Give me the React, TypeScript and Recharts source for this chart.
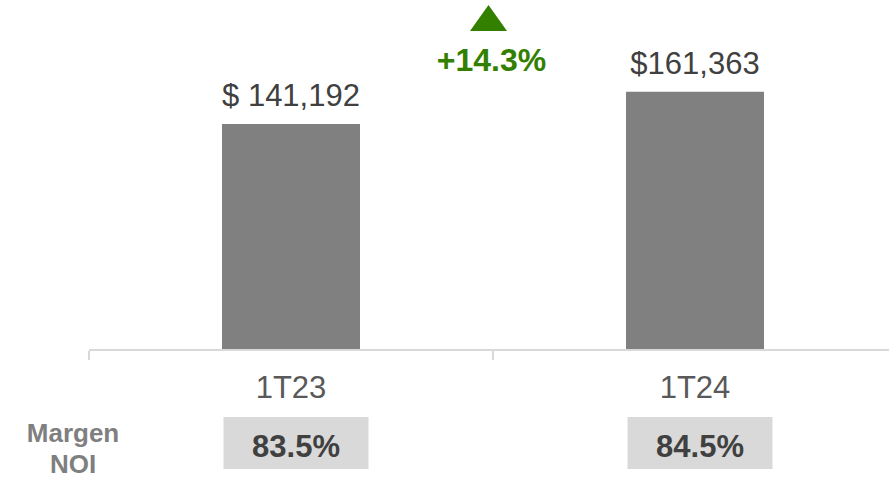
import React from 'react';
import { BarChart, Bar, XAxis, YAxis, LabelList } from 'recharts';

const categories = ['1T23', '1T24'];
const noiValues = [141192, 161363];
const valueLabels = ['$ 141,192', '$161,363'];
const marginLabels = ['83.5%', '84.5%'];
const growthLabel = '+14.3%';
const sideLabel = ['Margen', 'NOI'];

const data = categories.map((c, i) => ({
  name: c,
  value: noiValues[i],
  label: valueLabels[i],
  margin: marginLabels[i],
}));

const FONT = '"Liberation Sans", Arial, Helvetica, sans-serif';
const CHART_W = 897;
const CHART_H = 480;
const M_LEFT = 89;
const BAND = (CHART_W - M_LEFT) / categories.length;

const Tick = (props: any) => {
  const { x, y, payload, index } = props;
  const i = index ?? payload.index;
  const left = x - BAND / 2;
  const right = x + BAND / 2;
  return (
    <g>
      <line x1={left} x2={left} y1={y + 1} y2={y + 10} stroke="#d9d9d9" strokeWidth={2} />
      {i === categories.length - 1 && (
        <line x1={right} x2={right} y1={y + 1} y2={y + 10} stroke="#d9d9d9" strokeWidth={2} />
      )}
      <text x={x} y={y + 48} textAnchor="middle" fontFamily={FONT} fontSize={31} fill="#595959">
        {payload.value}
      </text>
      <rect x={x + 5 - 72.5} y={y + 67} width={145} height={52} fill="#d9d9d9" />
      <text x={x + 5} y={y + 107} textAnchor="middle" fontFamily={FONT} fontSize={31} fontWeight="bold" fill="#404040">
        {marginLabels[i]}
      </text>
      {i === 0 && (
        <text x={73} textAnchor="middle" fontFamily={FONT} fontSize={26} fontWeight="bold" fill="#7f7f7f">
          <tspan x={73} y={442}>{sideLabel[0]}</tspan>
          <tspan x={73} y={473}>{sideLabel[1]}</tspan>
        </text>
      )}
      {i === 1 && (
        <g>
          <polygon
            points={`${left - 4.5},5 ${left - 23},31 ${left + 14},31`}
            fill="#338000"
          />
          <text x={left - 1.5} y={71} textAnchor="middle" fontFamily={FONT} fontSize={32} fontWeight="bold" fill="#338000">
            {growthLabel}
          </text>
        </g>
      )}
    </g>
  );
};

export default function App() {
  return (
    <div style={{ position: 'absolute', left: 0, top: 0, width: 889, height: 480, overflow: 'hidden', background: '#fff' }}>
      <BarChart
        width={CHART_W}
        height={CHART_H}
        data={data}
        margin={{ top: 30, right: 0, bottom: 0, left: M_LEFT }}
        barCategoryGap={0}
      >
        <XAxis
          dataKey="name"
          height={130}
          axisLine={{ stroke: '#d9d9d9', strokeWidth: 2 }}
          tickLine={false}
          tickSize={0}
          tickMargin={0}
          interval={0}
          tick={<Tick />}
        />
        <YAxis hide domain={[0, 200000]} />
        <Bar dataKey="value" fill="#808080" barSize={138} isAnimationActive={false}>
          <LabelList
            dataKey="label"
            position="top"
            offset={18}
            fontFamily={FONT}
            fontSize={31}
            fill="#404040"
          />
        </Bar>
      </BarChart>
    </div>
  );
}
